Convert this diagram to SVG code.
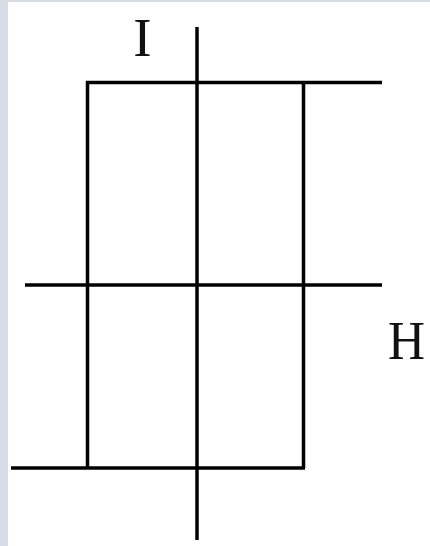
<svg xmlns="http://www.w3.org/2000/svg" width="430" height="546" viewBox="0 0 430 546">
<style>
.ln{stroke:#000;stroke-width:3.5;fill:none;stroke-linecap:butt}
.lbl{font-family:"Liberation Serif","Times New Roman",serif;font-size:55px;fill:#111;text-anchor:middle}
</style>
<rect x="0" y="0" width="430" height="546" fill="#d6dde7"/>
<rect x="8" y="2" width="422" height="544" fill="#fff"/>
<g id="connectors">
<line class="ln" x1="197" y1="27" x2="197" y2="540"/>
<line class="ln" x1="86" y1="82.5" x2="382" y2="82.5"/>
<line class="ln" x1="25" y1="285" x2="382" y2="285"/>
<line class="ln" x1="11" y1="468" x2="305" y2="468"/>
<line class="ln" x1="87.5" y1="81" x2="87.5" y2="468"/>
<line class="ln" x1="303.5" y1="81" x2="303.5" y2="468"/>
</g>
<g id="label-I"><text class="lbl" x="142.5" y="56">I</text></g>
<g id="label-H"><text class="lbl" x="406.5" y="359" textLength="37" lengthAdjust="spacingAndGlyphs">H</text></g>
</svg>
